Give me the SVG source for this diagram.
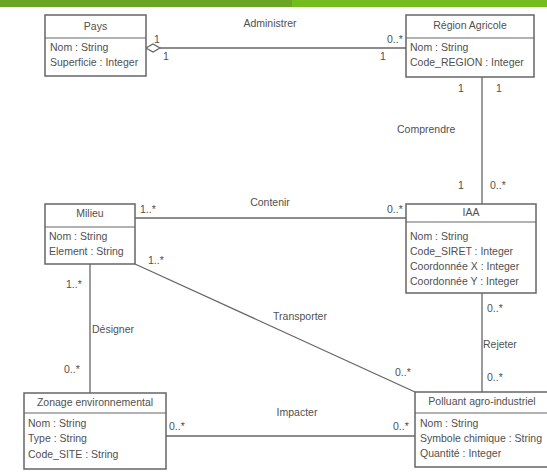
<svg xmlns="http://www.w3.org/2000/svg" width="547" height="476" viewBox="0 0 547 476">
<style>
text{font-family:"Liberation Sans",Arial,sans-serif;font-size:10.5px;fill:#505050}
.t{text-anchor:middle}
.box{fill:#fff;stroke:#666;stroke-width:1.5}
.sep{stroke:#666;stroke-width:1.2}
.ln{stroke:#666;stroke-width:1.3;fill:none}
</style>
<rect x="0" y="0" width="292" height="7" fill="#6aa423"/>
<rect x="292" y="0" width="255" height="7" fill="#74bb1e"/>

<g id="connectors">
<line class="ln" x1="160" y1="48" x2="406" y2="48"/>
<polygon points="146,48 153,44 160,48 153,52" fill="#fff" stroke="#666" stroke-width="1.3"/>
<text x="270" y="27" class="t">Administrer</text>
<text x="154" y="43">1</text>
<text x="163" y="60">1</text>
<text x="387" y="43">0..*</text>
<text x="380" y="60">1</text>

<line class="ln" x1="482" y1="77" x2="482" y2="204"/>
<text x="458" y="92">1</text>
<text x="496" y="92">1</text>
<text x="397" y="133">Comprendre</text>
<text x="458" y="189">1</text>
<text x="490" y="189">0..*</text>

<line class="ln" x1="135" y1="218" x2="406" y2="218"/>
<text x="270" y="206" class="t">Contenir</text>
<text x="140" y="213">1..*</text>
<text x="387" y="213">0..*</text>

<line class="ln" x1="135" y1="264" x2="415" y2="392"/>
<text x="300" y="320" class="t">Transporter</text>
<text x="148" y="264">1..*</text>
<text x="395" y="376">0..*</text>

<line class="ln" x1="90" y1="264" x2="90" y2="393"/>
<text x="92" y="333">Désigner</text>
<text x="66" y="288">1..*</text>
<text x="64" y="373">0..*</text>

<line class="ln" x1="166" y1="436" x2="415" y2="436"/>
<text x="297" y="416" class="t">Impacter</text>
<text x="169" y="430">0..*</text>
<text x="393" y="430">0..*</text>

<line class="ln" x1="482" y1="293" x2="482" y2="392"/>
<text x="487" y="312">0..*</text>
<text x="483" y="348">Rejeter</text>
<text x="487" y="381">0..*</text>
</g>

<g id="pays">
<rect class="box" x="45" y="15" width="101" height="61"/>
<line class="sep" x1="45" y1="38" x2="146" y2="38"/>
<text x="95.5" y="30" class="t">Pays</text>
<text x="50" y="51">Nom : String</text>
<text x="50" y="66">Superficie : Integer</text>
</g>

<g id="region">
<rect class="box" x="406" y="15" width="128" height="62"/>
<line class="sep" x1="406" y1="38" x2="534" y2="38"/>
<text x="470" y="29" class="t">Région Agricole</text>
<text x="410" y="51">Nom : String</text>
<text x="410" y="66">Code_REGION : Integer</text>
</g>

<g id="milieu">
<rect class="box" x="45" y="204" width="90" height="60"/>
<line class="sep" x1="45" y1="227" x2="135" y2="227"/>
<text x="90" y="217" class="t">Milieu</text>
<text x="49" y="240">Nom : String</text>
<text x="49" y="255">Element : String</text>
</g>

<g id="iaa">
<rect class="box" x="406" y="204" width="130" height="89"/>
<line class="sep" x1="406" y1="222" x2="536" y2="222"/>
<text x="471" y="216" class="t">IAA</text>
<text x="410" y="240">Nom : String</text>
<text x="410" y="255">Code_SIRET : Integer</text>
<text x="410" y="270">Coordonnée X : Integer</text>
<text x="410" y="285">Coordonnée Y : Integer</text>
</g>

<g id="zonage">
<rect class="box" x="24" y="393" width="142" height="76"/>
<line class="sep" x1="24" y1="413" x2="166" y2="413"/>
<text x="95" y="406" class="t">Zonage environnemental</text>
<text x="28" y="427">Nom : String</text>
<text x="28" y="442">Type : String</text>
<text x="28" y="458">Code_SITE : String</text>
</g>

<g id="polluant">
<rect class="box" x="415" y="392" width="133" height="75"/>
<line class="sep" x1="415" y1="413" x2="548" y2="413"/>
<text x="482" y="405" class="t">Polluant agro-industriel</text>
<text x="420" y="427">Nom : String</text>
<text x="420" y="442">Symbole chimique : String</text>
<text x="420" y="457">Quantité : Integer</text>
</g>
</svg>
